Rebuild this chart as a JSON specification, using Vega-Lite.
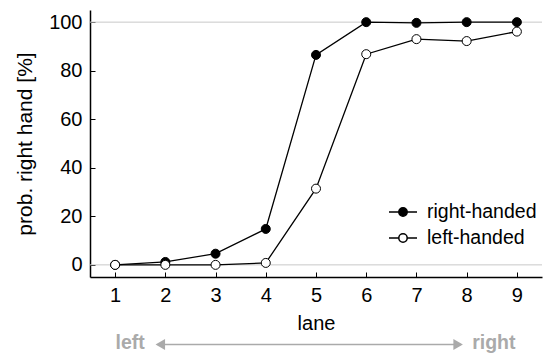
{
  "$schema": "https://vega.github.io/schema/vega-lite/v6.json",
  "width": 452,
  "height": 267,
  "autosize": {"type": "none"},
  "padding": {"left": 90, "top": 10, "right": 5, "bottom": 79},
  "config": {
    "view": {"stroke": null},
    "font": "Liberation Sans",
    "axis": {
      "labelFont": "Liberation Sans",
      "titleFont": "Liberation Sans",
      "labelFontSize": 20,
      "titleFontSize": 20,
      "titleFontWeight": "normal",
      "labelColor": "black",
      "titleColor": "black",
      "domainColor": "black",
      "domainWidth": 1.5,
      "tickColor": "black",
      "tickWidth": 1,
      "grid": false
    }
  },
  "datasets": {
    "main": [
      {"lane": 1, "hand": "right-handed", "prob": 0},
      {"lane": 2, "hand": "right-handed", "prob": 1.2},
      {"lane": 3, "hand": "right-handed", "prob": 4.6},
      {"lane": 4, "hand": "right-handed", "prob": 14.8},
      {"lane": 5, "hand": "right-handed", "prob": 86.5},
      {"lane": 6, "hand": "right-handed", "prob": 100},
      {"lane": 7, "hand": "right-handed", "prob": 99.7},
      {"lane": 8, "hand": "right-handed", "prob": 100},
      {"lane": 9, "hand": "right-handed", "prob": 100},
      {"lane": 1, "hand": "left-handed", "prob": 0},
      {"lane": 2, "hand": "left-handed", "prob": 0},
      {"lane": 3, "hand": "left-handed", "prob": 0},
      {"lane": 4, "hand": "left-handed", "prob": 0.8},
      {"lane": 5, "hand": "left-handed", "prob": 31.4},
      {"lane": 6, "hand": "left-handed", "prob": 86.8},
      {"lane": 7, "hand": "left-handed", "prob": 93},
      {"lane": 8, "hand": "left-handed", "prob": 92.2},
      {"lane": 9, "hand": "left-handed", "prob": 96.1}
    ],
    "grid": [{"y": 0}, {"y": 100}],
    "annot": [
      {"label": "left", "x": 1.3, "y": -32},
      {"label": "right", "x": 8.54, "y": -32}
    ],
    "arrow": [{"x": 1.85, "x2": 7.88, "y": -32.8}],
    "heads": [
      {"x": 1.9, "y": -32.8, "dir": "triangle-left"},
      {"x": 7.83, "y": -32.8, "dir": "triangle-right"}
    ]
  },
  "layer": [
    {
      "data": {"name": "grid"},
      "mark": {"type": "rule", "color": "#c8c8c8", "strokeWidth": 1},
      "encoding": {
        "y": {"field": "y", "type": "quantitative", "scale": {"domain": [-5, 105], "nice": false, "zero": false},
          "axis": {"values": [0, 20, 40, 60, 80, 100], "tickSize": -5, "labelPadding": 13, "title": "prob. right hand [%]", "titleFontSize": 21, "titlePadding": 13}}
      }
    },
    {
      "data": {"name": "main"},
      "mark": {"type": "line", "color": "black", "strokeWidth": 1.3},
      "encoding": {
        "x": {"field": "lane", "type": "quantitative", "scale": {"domain": [0.5, 9.5], "nice": false, "zero": false},
          "axis": {"values": [1, 2, 3, 4, 5, 6, 7, 8, 9], "tickSize": -5, "labelPadding": 13, "title": "lane", "titlePadding": 8}},
        "y": {"field": "prob", "type": "quantitative"},
        "detail": {"field": "hand"}
      }
    },
    {
      "data": {"name": "main"},
      "mark": {"type": "point", "filled": true, "stroke": "black", "strokeWidth": 1, "size": 81, "opacity": 1},
      "encoding": {
        "x": {"field": "lane", "type": "quantitative"},
        "y": {"field": "prob", "type": "quantitative"},
        "fill": {"field": "hand", "type": "nominal",
          "scale": {"domain": ["right-handed", "left-handed"], "range": ["black", "white"]},
          "legend": {
            "title": null,
            "orient": "none",
            "legendX": 298,
            "legendY": 187,
            "padding": 0,
            "symbolType": "M-1,0L-0.3,0M0.3,0L1,0M0.3,0A0.3,0.3,0,1,1,-0.3,0A0.3,0.3,0,1,1,0.3,0Z",
            "symbolSize": 784,
            "symbolStrokeColor": "black",
            "symbolStrokeWidth": 1.5,
            "symbolOpacity": 1,
            "labelFont": "Liberation Sans",
            "labelFontSize": 19.5,
            "labelColor": "black",
            "labelOffset": 9,
            "rowPadding": 1
          }
        }
      }
    },
    {
      "data": {"name": "arrow"},
      "mark": {"type": "rule", "color": "#aaaaaa", "strokeWidth": 1.5},
      "encoding": {
        "x": {"field": "x", "type": "quantitative"},
        "x2": {"field": "x2"},
        "y": {"field": "y", "type": "quantitative"}
      }
    },
    {
      "data": {"name": "heads"},
      "mark": {"type": "point", "filled": true, "color": "#aaaaaa", "size": 121, "opacity": 1},
      "encoding": {
        "x": {"field": "x", "type": "quantitative"},
        "y": {"field": "y", "type": "quantitative"},
        "shape": {"field": "dir", "type": "nominal", "scale": {"domain": ["triangle-left", "triangle-right"], "range": ["triangle-left", "triangle-right"]}, "legend": null}
      }
    },
    {
      "data": {"name": "annot"},
      "mark": {"type": "text", "color": "#aaaaaa", "font": "Liberation Sans", "fontWeight": "bold", "fontSize": 19.5, "baseline": "middle"},
      "encoding": {
        "x": {"field": "x", "type": "quantitative"},
        "y": {"field": "y", "type": "quantitative"},
        "text": {"field": "label"}
      }
    }
  ]
}
